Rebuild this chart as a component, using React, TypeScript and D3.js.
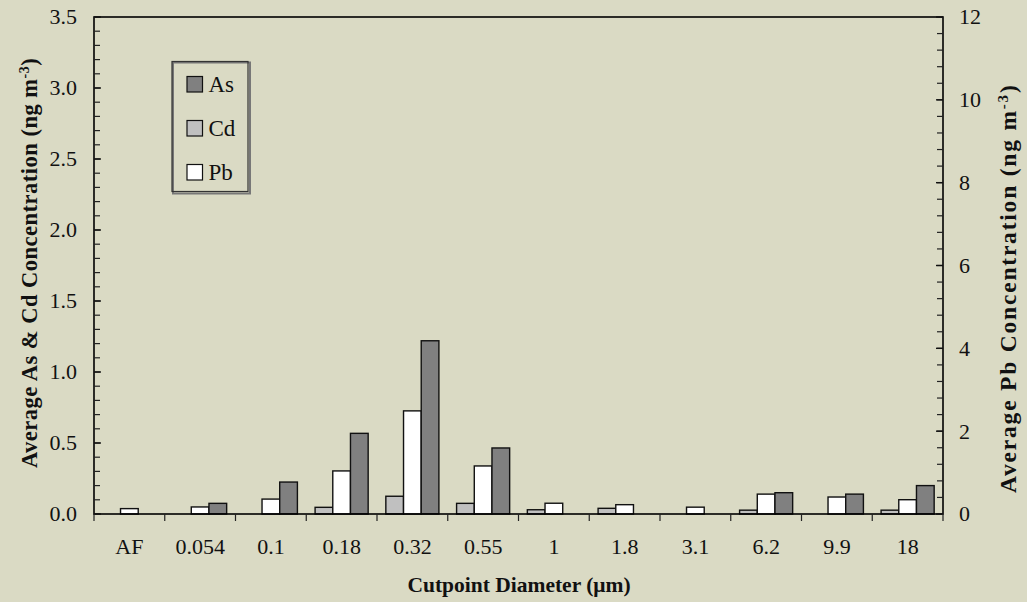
import React from "react";
import * as d3 from "d3";

// Cutpoint diameters of the impactor stages
const categories = ["AF", "0.054", "0.1", "0.18", "0.32", "0.55", "1", "1.8", "3.1", "6.2", "9.9", "18"];
// Average concentrations (ng m-3); As and Cd on the left axis, Pb on the right axis
const asValues = [0, 0.075, 0.225, 0.568, 1.22, 0.465, 0, 0, 0, 0.15, 0.14, 0.2];
const cdValues = [0, 0, 0, 0.047, 0.125, 0.075, 0.03, 0.04, 0, 0.027, 0, 0.027];
const pbValues = [0.13, 0.17, 0.36, 1.04, 2.49, 1.16, 0.26, 0.225, 0.165, 0.48, 0.41, 0.345];

const leftTicks = [0, 0.5, 1, 1.5, 2, 2.5, 3, 3.5];
const rightTicks = [0, 2, 4, 6, 8, 10, 12];

const W = 1027;
const H = 602;
const M = { left: 94, right: 943, top: 17, bottom: 514 };
const BG = "#dadac4";
const FONT = "'Liberation Serif', 'Times New Roman', serif";

const seriesOrder = [
  { key: "Cd", values: cdValues, fill: "#c0c0c0", axis: "left" },
  { key: "Pb", values: pbValues, fill: "#ffffff", axis: "right" },
  { key: "As", values: asValues, fill: "#808080", axis: "left" },
];

const legendItems = [
  { key: "As", fill: "#808080" },
  { key: "Cd", fill: "#c0c0c0" },
  { key: "Pb", fill: "#ffffff" },
];

export default function App() {
  const x = d3.scaleBand<string>().domain(categories).range([M.left, M.right]).paddingInner(0).paddingOuter(0);
  const yL = d3.scaleLinear().domain([0, 3.5]).range([M.bottom, M.top]);
  const yR = d3.scaleLinear().domain([0, 12]).range([M.bottom, M.top]);
  const inner = d3
    .scaleBand<string>()
    .domain(seriesOrder.map((s) => s.key))
    .range([0, x.bandwidth()])
    .paddingOuter(0.5)
    .paddingInner(0);

  const leftMinor = d3.range(0, 36).map((i) => i / 10);
  const rightMinor = d3.range(0, 31).map((i) => (i * 4) / 10);

  return (
    <svg width={W} height={H} style={{ position: "absolute", left: 0, top: 0, background: BG }} fontFamily={FONT}>
      <rect x={0} y={0} width={W} height={H} fill={BG} />

      {/* bars */}
      {seriesOrder.map((s) =>
        s.values.map((v, i) => {
          if (v <= 0) return null;
          const y = s.axis === "left" ? yL : yR;
          const bx = (x(categories[i]) as number) + (inner(s.key) as number);
          return (
            <rect
              key={s.key + i}
              x={bx}
              y={y(v)}
              width={inner.bandwidth()}
              height={M.bottom - y(v)}
              fill={s.fill}
              stroke="#111"
              strokeWidth={1.4}
            />
          );
        })
      )}

      {/* frame */}
      <rect x={M.left} y={M.top} width={M.right - M.left} height={M.bottom - M.top} fill="none" stroke="#000" strokeWidth={1.6} />

      {/* left ticks */}
      {leftMinor.map((t) => (
        <line key={"lm" + t} x1={M.left} x2={M.left + 6} y1={yL(t)} y2={yL(t)} stroke="#222" strokeWidth={1.2} />
      ))}
      {leftTicks.map((t) => (
        <g key={"lt" + t}>
          <line x1={M.left} x2={M.left + 7} y1={yL(t)} y2={yL(t)} stroke="#111" strokeWidth={1.4} />
          <text x={77} y={yL(t)} dy="0.34em" textAnchor="end" fontSize={22} fill="#111">
            {d3.format(".1f")(t)}
          </text>
        </g>
      ))}

      {/* right ticks */}
      {rightMinor.map((t) => (
        <line key={"rm" + t} x1={M.right - 6} x2={M.right} y1={yR(t)} y2={yR(t)} stroke="#222" strokeWidth={1.2} />
      ))}
      {rightTicks.map((t) => (
        <g key={"rt" + t}>
          <line x1={M.right - 7} x2={M.right} y1={yR(t)} y2={yR(t)} stroke="#111" strokeWidth={1.4} />
          <text x={959} y={yR(t)} dy="0.34em" textAnchor="start" fontSize={22} fill="#111">
            {t}
          </text>
        </g>
      ))}

      {/* x ticks at category boundaries */}
      {categories.map((c) => (
        <line key={"xt" + c} x1={x(c) as number} x2={x(c) as number} y1={M.bottom} y2={M.bottom + 7} stroke="#222" strokeWidth={1.2} />
      ))}
      <line x1={M.right} x2={M.right} y1={M.bottom} y2={M.bottom + 7} stroke="#222" strokeWidth={1.2} />
      {categories.map((c) => (
        <text key={"xl" + c} x={(x(c) as number) + x.bandwidth() / 2} y={554} textAnchor="middle" fontSize={22} fill="#111">
          {c}
        </text>
      ))}

      {/* axis titles */}
      <text x={519} y={592} textAnchor="middle" fontSize={21.5} fontWeight="bold" fill="#111">
        Cutpoint Diameter (μm)
      </text>
      <text transform="translate(37,468) rotate(-90)" textAnchor="start" fontSize={22.5} letterSpacing={0.5} fontWeight="bold" fill="#111">
        Average As &amp; Cd Concentration (ng m
        <tspan dy={-8} fontSize={14}>-3</tspan>
        <tspan dy={8}>)</tspan>
      </text>
      <text transform="translate(1016,493) rotate(-90)" textAnchor="start" fontSize={23.5} letterSpacing={1.8} fontWeight="bold" fill="#111">
        Average Pb Concentration (ng m
        <tspan dy={-8} fontSize={15}>-3</tspan>
        <tspan dy={8}>)</tspan>
      </text>

      {/* legend */}
      <rect x={173} y={62.5} width={77} height={131} fill="none" stroke="#777" strokeWidth={2} />
      <rect x={172} y={61.5} width={76} height={130} fill="none" stroke="#333" strokeWidth={1.2} />
      {legendItems.map((d, i) => (
        <g key={"lg" + d.key} transform={`translate(187,${76.5 + i * 44})`}>
          <rect x={0} y={0} width={15.5} height={15.5} fill={d.fill} stroke="#111" strokeWidth={1.2} />
          <text x={21.5} y={15.5} fontSize={23} fill="#111">
            {d.key}
          </text>
        </g>
      ))}
    </svg>
  );
}
